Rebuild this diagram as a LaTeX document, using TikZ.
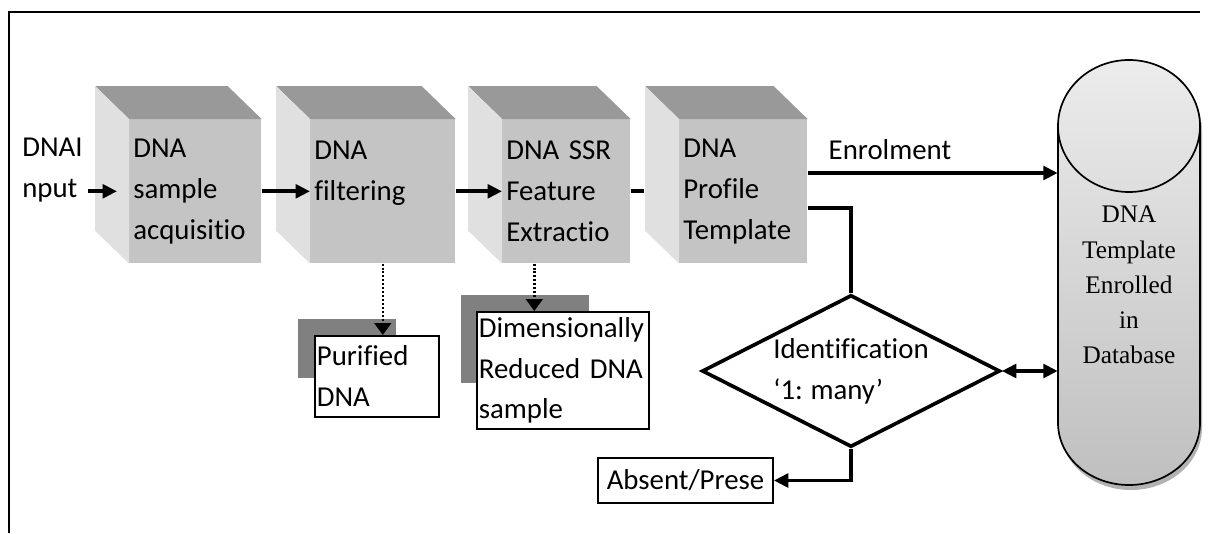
\documentclass[tikz,border=0pt]{standalone}
\usepackage{fontspec}
\setmainfont{Carlito}[Ligatures={TeX,NoCommon}, WordSpace=0.85]
\newfontfamily\dbfont{Liberation Serif}
\usetikzlibrary{arrows.meta,shapes.geometric,calc}

\definecolor{cubefront}{gray}{0.77}
\definecolor{cubetop}{gray}{0.6}
\definecolor{cubeside}{gray}{0.88}
\definecolor{boxshadow}{gray}{0.5}

\tikzset{
  txt/.style={font=\fontsize{20.5}{29}\selectfont},
  flow/.style={line width=2.6pt, -{Triangle[length=0.36cm,width=0.34cm]}},
  plain/.style={line width=2.6pt},
  dotflow/.style={line width=1.8pt, dash pattern=on 1.4pt off 1.4pt, -{Triangle[length=0.3cm,width=0.42cm]}},
  cubeface/.style={txt, fill=cubefront, anchor=north west, minimum height=3.6cm,
    inner sep=0.1cm, align=left},
  outbox/.style={txt, draw, line width=1.2pt, fill=white, anchor=north west,
    inner sep=0.05cm, align=left},
}

\begin{document}
\begin{tikzpicture}[x=0.025cm, y=-0.025cm]
\useasboundingbox (0,0) rectangle (1210,533);
% page frame
\draw[line width=2pt] (9,533) -- (9,12) -- (1200,12);

% processing stages
\node[cubeface, text width=3.1cm] (acq) at (129,119) {DNA\\sample\\acquisitio};
\node[cubeface, text width=3.425cm] (filt) at (310,119) {DNA\\filtering\\\mbox{}};
\node[cubeface, text width=3.0cm] (feat) at (502,119) {DNA SSR\\Feature\\Extractio};
\node[cubeface, text width=3.0cm] (prof) at (679,119) {DNA\\Profile\\Template};
\foreach \n in {acq,filt,feat,prof} {
  \fill[cubetop] (\n.north west) -- ++(-34,-33) -- ([shift={(-34,-33)}]\n.north east) -- (\n.north east) -- cycle;
  \fill[cubeside] (\n.north west) -- ++(-34,-33) -- ([shift={(-34,-33)}]\n.south west) -- (\n.south west) -- cycle;
}

\node[txt, align=left, anchor=west, inner sep=0.05cm] (inp) at (20,170) {DNAI\\nput};

% outputs of the stages
\fill[boxshadow] (298,319) rectangle (396,378);
\node[outbox, text width=3.0cm, minimum height=2.025cm] (pur) at (314,335) {Purified\\DNA};
\fill[boxshadow] (461,295) rectangle (589,383);
\node[outbox, text width=4.2cm, minimum height=2.925cm] (dim) at (476,311) {Dimensionally\\Reduced~DNA\\sample};

% database
\begin{scope}[shift={(2,5)}]
\fill[gray!60] (1058,126) -- (1058,423) arc[start angle=180, end angle=0, x radius=71, y radius=62]
  -- (1200,126) arc[start angle=0, end angle=-180, x radius=71, y radius=66] -- cycle;
\end{scope}
\shadedraw[top color=gray!15, bottom color=gray!50, line width=1.2pt] (1058,126) -- (1058,423)
  arc[start angle=180, end angle=0, x radius=71, y radius=62]
  -- (1200,126) arc[start angle=0, end angle=-180, x radius=71, y radius=66] -- cycle;
\draw[line width=1.2pt] (1058,126) arc[start angle=180, end angle=0, x radius=71, y radius=66];
\node[align=center, font=\dbfont\fontsize{18}{25}\selectfont, minimum width=3.55cm,
  minimum height=10.625cm] (db) at (1129,285) {DNA\\Template\\Enrolled\\in\\Database};

% matching
\node[txt, draw, diamond, aspect=2, line width=2.6pt, minimum width=7.45cm, minimum height=3.8cm,
  inner sep=0pt, align=left] (idn) at (851,371) {Identification\\`1: many'};
\node[txt, draw, line width=1.2pt, minimum width=4.375cm, minimum height=1.125cm,
  inner sep=0.05cm] (absent) at (685.5,480.5) {Absent/Prese};
\node[txt] (enrl) at (890,150) {Enrolment};

% connectors
\draw[flow, shorten <=0.08cm] (inp.east |- acq.west) -- ([xshift=-0.3cm]acq.west);
\draw[flow] (acq) -- (filt);
\draw[flow] (filt) -- (feat);
\draw[plain] (feat.east) -- ++(13,0);
\coordinate (enr) at ($(prof.north east)+(0,54)$);
\coordinate (idnin) at ($(prof.north east)+(0,89)$);
\draw[flow] (enr) -- (enr -| db.west);
\draw[plain] (idnin) -| (idn.north);
\draw[line width=2.6pt, {Triangle[length=0.36cm,width=0.34cm]}-{Triangle[length=0.36cm,width=0.34cm]}]
  (idn.east) -- (idn.east -| db.west);
\draw[flow] (idn.south) |- (absent.east);
\draw[dotflow] (filt.south) -- (filt.south |- pur.north);
\draw[dotflow] ([xshift=-0.8cm]feat.south) -- ([xshift=-0.8cm]feat.south |- dim.north);
\end{tikzpicture}
\end{document}
